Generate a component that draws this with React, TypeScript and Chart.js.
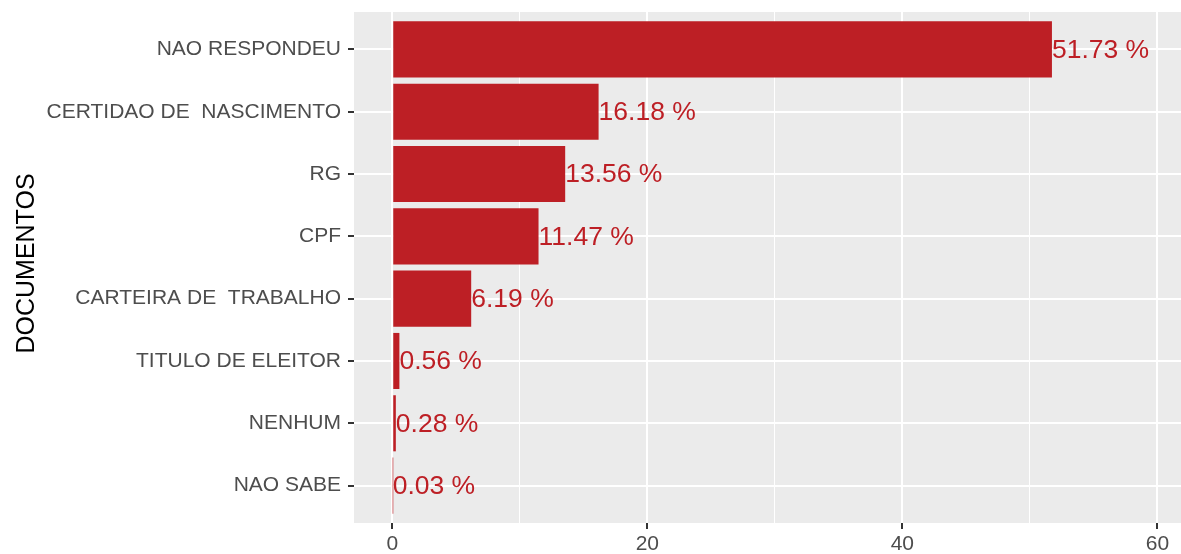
import React, { useEffect, useRef } from "react";
import { Chart, registerables } from "chart.js";

Chart.register(...registerables);

const categories: string[] = [
  "NAO RESPONDEU",
  "CERTIDAO DE  NASCIMENTO",
  "RG",
  "CPF",
  "CARTEIRA DE  TRABALHO",
  "TITULO DE ELEITOR",
  "NENHUM",
  "NAO SABE",
];
const values: number[] = [51.73, 16.18, 13.56, 11.47, 6.19, 0.56, 0.28, 0.03];
const valueLabels: string[] = ["51.73 %", "16.18 %", "13.56 %", "11.47 %", "6.19 %", "0.56 %", "0.28 %", "0.03 %"];
const xTicks: number[] = [0, 10, 20, 30, 40, 50, 60];
const xMajor: number[] = [0, 20, 40, 60];
const yTitle = "DOCUMENTOS";

const FONT = "'Liberation Sans', Arial, Helvetica, sans-serif";
const BAR = "#BD1F25";

export default function App() {
  const ref = useRef<HTMLCanvasElement | null>(null);
  useEffect(() => {
    document.body.style.margin = "0";
    const canvas = ref.current;
    if (!canvas) return;

    const panelBg = {
      id: "panelBg",
      beforeDraw(chart: any) {
        const { ctx, chartArea } = chart;
        ctx.save();
        ctx.fillStyle = "#EBEBEB";
        ctx.fillRect(chartArea.left, chartArea.top, chartArea.right - chartArea.left, chartArea.bottom - chartArea.top);
        ctx.restore();
      },
    };
    const barLabels = {
      id: "barLabels",
      afterDatasetsDraw(chart: any) {
        const { ctx } = chart;
        const meta = chart.getDatasetMeta(0);
        ctx.save();
        ctx.fillStyle = BAR;
        ctx.font = `26.5px ${FONT}`;
        ctx.textAlign = "left";
        ctx.textBaseline = "middle";
        meta.data.forEach((el: any, i: number) => {
          ctx.fillText(valueLabels[i], el.x, el.y + 1);
        });
        ctx.restore();
      },
    };
    const axisTitle = {
      id: "axisTitle",
      afterDraw(chart: any) {
        const { ctx, chartArea } = chart;
        ctx.save();
        ctx.translate(27, (chartArea.top + chartArea.bottom) / 2 - 4);
        ctx.rotate(-Math.PI / 2);
        ctx.fillStyle = "#000000";
        ctx.font = `25px ${FONT}`;
        ctx.textAlign = "center";
        ctx.textBaseline = "middle";
        ctx.fillText(yTitle, 0, 0);
        ctx.restore();
      },
    };

    const chart = new Chart(canvas, {
      type: "bar",
      data: {
        datasets: [
          {
            data: values.map((v, i) => ({ x: v, y: i + 1 })) as any,
            backgroundColor: BAR,
            borderWidth: 0,
            barPercentage: 0.9,
            categoryPercentage: 1.0,
          },
        ],
      },
      options: {
        indexAxis: "y",
        animation: false,
        responsive: false,
        maintainAspectRatio: false,
        layout: { padding: { top: 12, right: 0, left: 0, bottom: 0 } },
        plugins: { legend: { display: false }, tooltip: { enabled: false } },
        scales: {
          x: {
            type: "linear",
            min: -3.0,
            max: 61.85,
            offset: false,
            afterBuildTicks: (scale: any) => {
              scale.ticks = xTicks.map((v) => ({ value: v }));
            },
            afterFit: (scale: any) => {
              scale.height = 31;
              scale.paddingLeft = 0;
              scale.paddingRight = 0;
            },
            border: { display: false },
            grid: {
              offset: false,
              color: "#FFFFFF",
              lineWidth: (c: any) => (xMajor.includes(c.tick?.value) ? 2 : 1),
              tickColor: (c: any) => (xMajor.includes(c.tick?.value) ? "#333333" : "rgba(0,0,0,0)"),
              tickWidth: 2,
              tickLength: 6,
              drawTicks: true,
            },
            ticks: {
              autoSkip: false,
              maxRotation: 0,
              padding: 3,
              color: "#4D4D4D",
              font: { family: FONT, size: 21 },
              callback: (v: any) => (xMajor.includes(Number(v)) ? String(v) : ""),
            },
          },
          y: {
            type: "linear",
            reverse: true,
            min: 0.4,
            max: 8.6,
            offset: false,
            afterBuildTicks: (scale: any) => {
              scale.ticks = categories.map((_, i) => ({ value: i + 1 }));
            },
            afterFit: (scale: any) => {
              scale.width = 354;
              scale.paddingTop = 0;
              scale.paddingBottom = 0;
            },
            border: { display: false },
            grid: {
              offset: false,
              color: "#FFFFFF",
              lineWidth: 2,
              tickColor: "#333333",
              tickWidth: 2,
              tickLength: 6,
            },
            ticks: {
              autoSkip: false,
              padding: 7,
              color: "#4D4D4D",
              font: { family: FONT, size: 21 },
              callback: (v: any) => categories[Number(v) - 1] ?? "",
            },
            title: { display: false },
          },
        },
      },
      plugins: [panelBg, barLabels, axisTitle],
    } as any);
    return () => chart.destroy();
  }, []);
  return (
    <div style={{ width: 1181, height: 554 }}>
      <canvas ref={ref} width={1181} height={554} style={{ display: "block", width: 1181, height: 554 }} />
    </div>
  );
}
